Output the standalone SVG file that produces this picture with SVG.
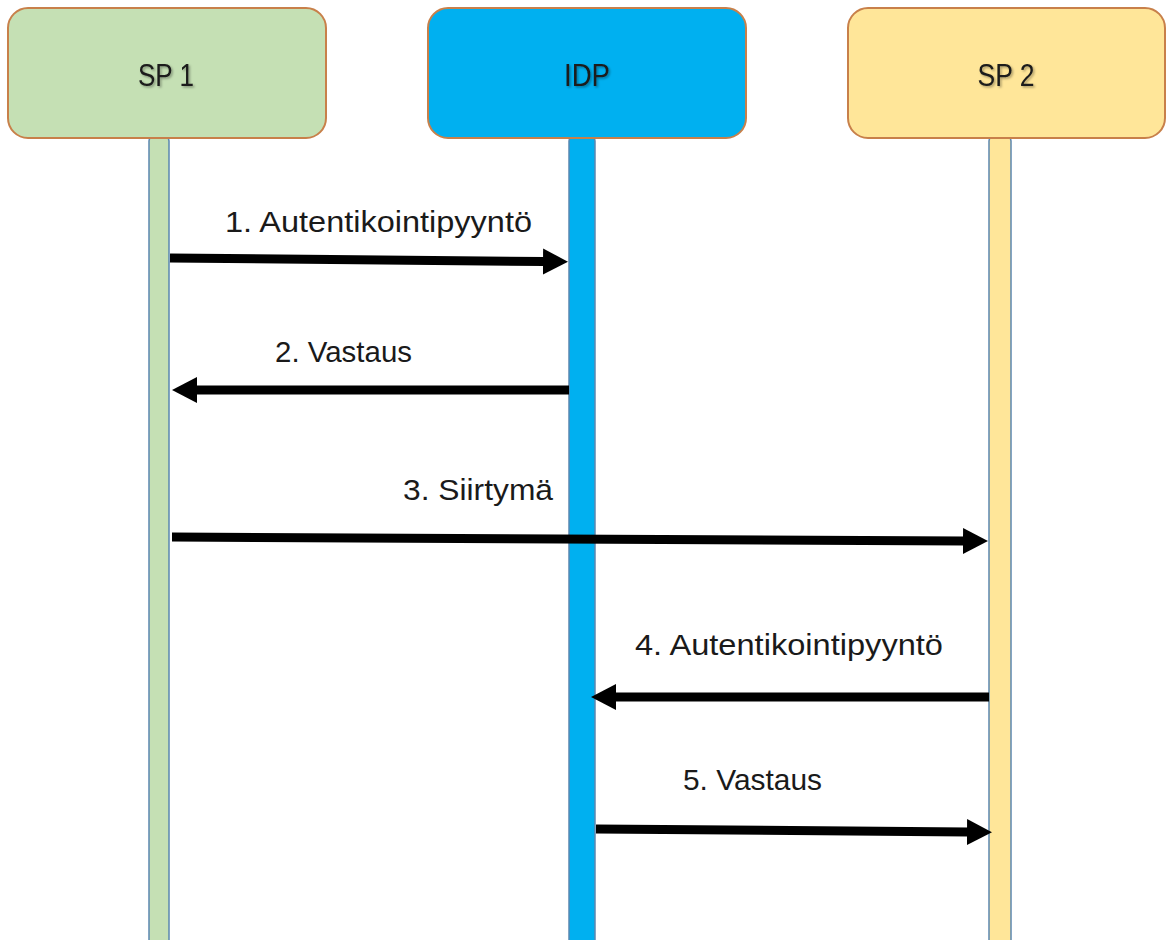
<svg xmlns="http://www.w3.org/2000/svg" width="1173" height="940" viewBox="0 0 1173 940">
  <defs>
    <style>
      .box { stroke: #C8804A; stroke-width: 2; }
      .bar { stroke: #5B86B0; stroke-width: 1.5; }
      .title { font-family: "Liberation Sans", Arial, sans-serif; font-size: 31px; fill: #1a1a1a; text-anchor: middle; }
      .lbl { font-family: "Liberation Sans", Arial, sans-serif; font-size: 30px; fill: #1a1a1a; }
      .msg { stroke: #000; stroke-width: 9; fill: none; marker-end: url(#head); }
    </style>
    <marker id="head" markerUnits="userSpaceOnUse" markerWidth="26" markerHeight="28" viewBox="0 0 26 28" refX="1" refY="14" orient="auto">
      <path d="M0,1 L25,14 L0,27 z" fill="#000"/>
    </marker>
    <filter id="shadow" x="-20%" y="-20%" width="140%" height="140%">
      <feDropShadow dx="1.5" dy="1.5" stdDeviation="1" flood-color="#000" flood-opacity="0.35"/>
    </filter>
  </defs>

  <rect width="1173" height="940" fill="#fff"/>

  <g id="sp1">
    <rect class="bar" x="149" y="136" width="20" height="820" rx="5" fill="#C5E0B4"/>
    <rect class="box" x="8" y="8" width="318" height="130" rx="20" fill="#C5E0B4"/>
    <text class="title" x="166" y="86" filter="url(#shadow)" textLength="56" lengthAdjust="spacingAndGlyphs">SP 1</text>
  </g>

  <g id="idp">
    <rect class="bar" x="569" y="136" width="26" height="820" rx="5" fill="#00B0F0"/>
    <rect class="box" x="428" y="8" width="318" height="130" rx="20" fill="#00B0F0"/>
    <text class="title" x="587" y="86" filter="url(#shadow)" textLength="46" lengthAdjust="spacingAndGlyphs">IDP</text>
  </g>

  <g id="sp2">
    <rect class="bar" x="989" y="136" width="22" height="820" rx="5" fill="#FFE699"/>
    <rect class="box" x="848" y="8" width="317" height="130" rx="20" fill="#FFE699"/>
    <text class="title" x="1006" y="86" filter="url(#shadow)" textLength="57" lengthAdjust="spacingAndGlyphs">SP 2</text>
  </g>

  <g id="connectors">
    <line class="msg" x1="170" y1="258" x2="544" y2="261.5"/>
    <line class="msg" x1="569" y1="390" x2="196" y2="390"/>
    <line class="msg" x1="172" y1="537" x2="964" y2="541"/>
    <line class="msg" x1="989" y1="697" x2="615" y2="697"/>
    <line class="msg" x1="596" y1="829" x2="968" y2="832"/>
  </g>

  <g id="labels">
    <text class="lbl" x="225" y="232" textLength="307" lengthAdjust="spacingAndGlyphs">1. Autentikointipyyntö</text>
    <text class="lbl" x="275" y="362" textLength="137" lengthAdjust="spacingAndGlyphs">2. Vastaus</text>
    <text class="lbl" x="403" y="500" textLength="150" lengthAdjust="spacingAndGlyphs">3. Siirtymä</text>
    <text class="lbl" x="635" y="655" textLength="308" lengthAdjust="spacingAndGlyphs">4. Autentikointipyyntö</text>
    <text class="lbl" x="683" y="790" textLength="139" lengthAdjust="spacingAndGlyphs">5. Vastaus</text>
  </g>
</svg>
